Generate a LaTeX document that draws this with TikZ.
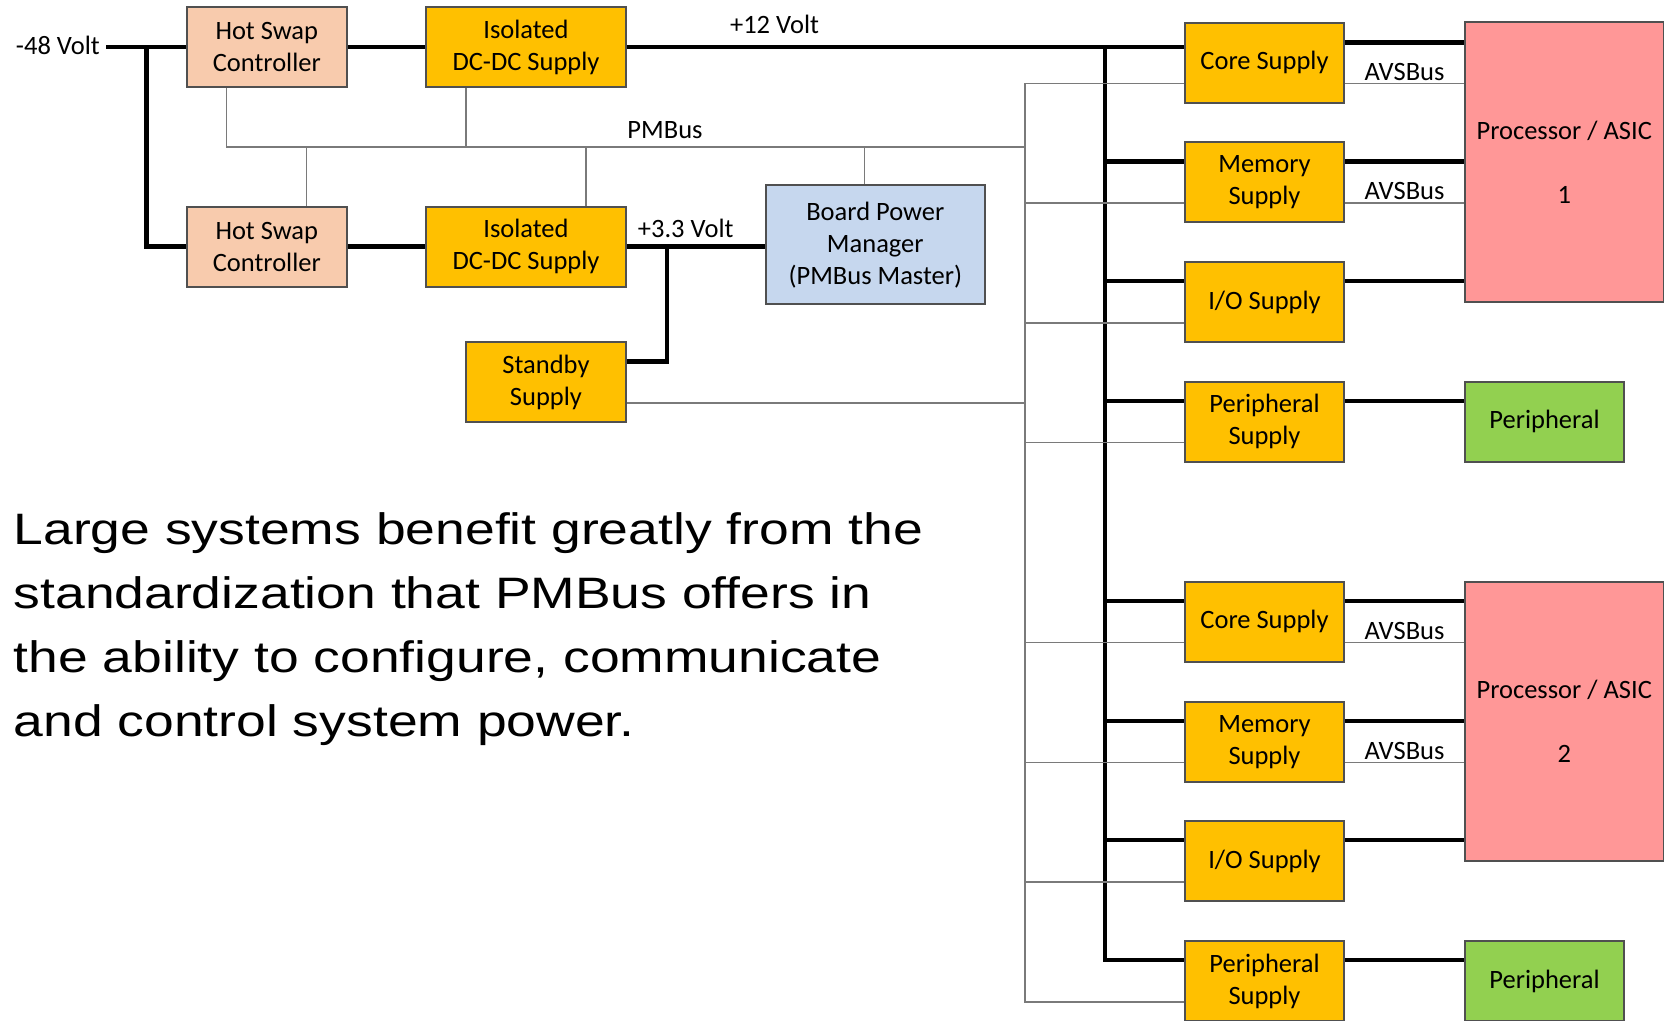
\documentclass[tikz,border=0pt]{standalone}
\usepackage{fontspec}
\setmainfont{Carlito}
\newfontfamily\parafont[FakeStretch=1.215]{Liberation Sans}
\usetikzlibrary{calc}
\definecolor{hsfill}{HTML}{F8CBAD}
\definecolor{supfill}{HTML}{FFC000}
\definecolor{bpmfill}{HTML}{C6D7EE}
\definecolor{procfill}{HTML}{FF9797}
\definecolor{perfill}{HTML}{92D050}
\definecolor{edgecol}{HTML}{505050}
\definecolor{sigcol}{HTML}{7A7A7A}
\begin{document}
\begin{tikzpicture}[x=1pt,y=-1pt,
  box/.style={draw=edgecol, line width=1.9pt, rectangle, inner sep=0pt, align=center,
    font=\fontsize{26.5}{32}\selectfont},
  hsbox/.style={box, fill=hsfill, minimum width=160pt, minimum height=80pt},
  isobox/.style={box, fill=supfill, minimum width=200pt, minimum height=80pt},
  supbox/.style={box, fill=supfill, minimum width=159pt, minimum height=80pt},
  procbox/.style={box, fill=procfill, minimum width=198.5pt, minimum height=279.4pt},
  perbox/.style={box, fill=perfill, minimum width=159pt, minimum height=80pt},
  lbl/.style={inner sep=0pt, text=black, font=\fontsize{26.5}{32}\selectfont},
  pwr/.style={line width=4.5pt, black},
  sig/.style={line width=1.6pt, sigcol}]
\useasboundingbox (0,0) rectangle (1669,1020);

% left side
\node[hsbox] (hs1) at (266.8,47) {Hot Swap\\Controller};
\node[isobox] (iso1) at (526,47) {Isolated\\DC-DC Supply};
\node[hsbox] (hs2) at (266.8,246.7) {Hot Swap\\Controller};
\node[isobox] (iso2) at (526,246.7) {Isolated\\DC-DC Supply};
\node[box, fill=supfill, minimum width=160pt, minimum height=80pt] (sb) at (546,382.2) {Standby\\Supply};
\node[box, fill=bpmfill, minimum width=219.3pt, minimum height=119.3pt] (bpm) at (875.3,244.7) {Board Power\\Manager\\(PMBus Master)};

% supplies
\node[supbox] (core1) at (1264.5,62.7) {Core Supply};
\node[supbox] (mem1) at (1264.5,182.3) {Memory\\Supply};
\node[supbox] (io1) at (1264.5,302) {I/O Supply};
\node[supbox] (per1) at (1264.5,421.7) {Peripheral\\Supply};
\node[supbox] (core2) at (1264.5,621.7) {Core Supply};
\node[supbox] (mem2) at (1264.5,741.7) {Memory\\Supply};
\node[supbox] (io2) at (1264.5,861) {I/O Supply};
\node[supbox] (per2) at (1264.5,981) {Peripheral\\Supply};

\node[procbox] (proc1) at (1564.2,162) {Processor / ASIC\\[32pt]1};
\node[procbox] (proc2) at (1564.2,721.3) {Processor / ASIC\\[32pt]2};
\node[perbox] (pg1) at (1544.5,421.7) {Peripheral};
\node[perbox] (pg2) at (1544.5,981) {Peripheral};

% pins
\foreach \s in {core1,mem1,io1,per1,core2,mem2,io2,per2}{
  \coordinate (\s-t) at ($(\s.north west)+(0,20)$);
  \coordinate (\s-b) at ($(\s.south west)+(0,-20)$);
  \coordinate (\s-tr) at ($(\s.north east)+(0,20)$);
  \coordinate (\s-br) at ($(\s.south east)+(0,-20)$);
}
\coordinate (sb-t) at ($(sb.north east)+(0,20)$);
\coordinate (sb-b) at ($(sb.south east)+(0,-20)$);
\coordinate (bt) at (1105,47);
\coordinate (px) at (1024.7,0);
\coordinate (pmb) at (0,146.7);
\coordinate (j48) at (146.4,47);

% -48 V input
\node[lbl, anchor=east, inner xsep=6pt] (in48) at (106,45) {-48 Volt};
\draw[pwr] (in48.east |- hs1.west) -- (hs1.west);
\draw[pwr] (j48) |- (hs2.west);
\draw[pwr] (hs1.east) -- (iso1.west);
\draw[pwr] (hs2.east) -- (iso2.west);

% +12 V bus
\draw[pwr] (iso1.east) -- (iso1.east -| core1.west);
\node[lbl] (v12) at (774.5,24) {+12 Volt};
\draw[pwr] (bt) |- (per2-t);
\foreach \s in {mem1,io1,per1,core2,mem2,io2}{
  \draw[pwr] (bt |- \s-t) -- (\s-t);
}

% +3.3 V
\draw[pwr] (iso2.east) -- (iso2.east -| bpm.west);
\node[lbl] (v33) at (685.7,228) {+3.3 Volt};
\draw[pwr] ([xshift=40pt]iso2.east) |- (sb-t);

% PMBus
\draw[sig] ([xshift=-40.5pt]hs1.south) |- (px |- pmb);
\draw[sig] ([xshift=-60pt]iso1.south) -- ([xshift=-60pt]iso1.south |- pmb);
\draw[sig] ([xshift=39.5pt]hs2.north) -- ([xshift=39.5pt]hs2.north |- pmb);
\draw[sig] ([xshift=59.7pt]iso2.north) -- ([xshift=59.7pt]iso2.north |- pmb);
\draw[sig] ([xshift=-11pt]bpm.north) -- ([xshift=-11pt]bpm.north |- pmb);
\node[lbl] (pmlbl) at (665,130) {PMBus};
\draw[sig] (sb-b) -- (px |- sb-b);
\draw[sig] (core1-b) -| (px |- per2-b) -- (per2-b);
\foreach \s in {mem1,io1,per1,core2,mem2,io2}{
  \draw[sig] (px |- \s-b) -- (\s-b);
}

% right side
\draw[pwr] (core1.east |- 0,42.5) -- (proc1.west |- 0,42.5);
\foreach \s in {mem1,io1}{ \draw[pwr] (\s-tr) -- (\s-tr -| proc1.west); }
\foreach \s in {core2,mem2,io2}{ \draw[pwr] (\s-tr) -- (\s-tr -| proc2.west); }
\draw[pwr] (per1-tr) -- (per1-tr -| pg1.west);
\draw[pwr] (per2-tr) -- (per2-tr -| pg2.west);
\foreach \s/\p in {core1/proc1,mem1/proc1,core2/proc2,mem2/proc2}{
  \draw[sig] (\s-br) -- (\s-br -| \p.west) node[lbl, midway, above, inner sep=2.5pt] {AVSBus};
}

% text
\node[anchor=base west, inner sep=0pt, align=left,
  font=\parafont\fontsize{44}{64}\selectfont] (para) at (13.5,736)
  {Large systems benefit greatly from the\\standardization that PMBus offers in\\the ability to configure, communicate\\and control system power.};
\end{tikzpicture}
\end{document}
